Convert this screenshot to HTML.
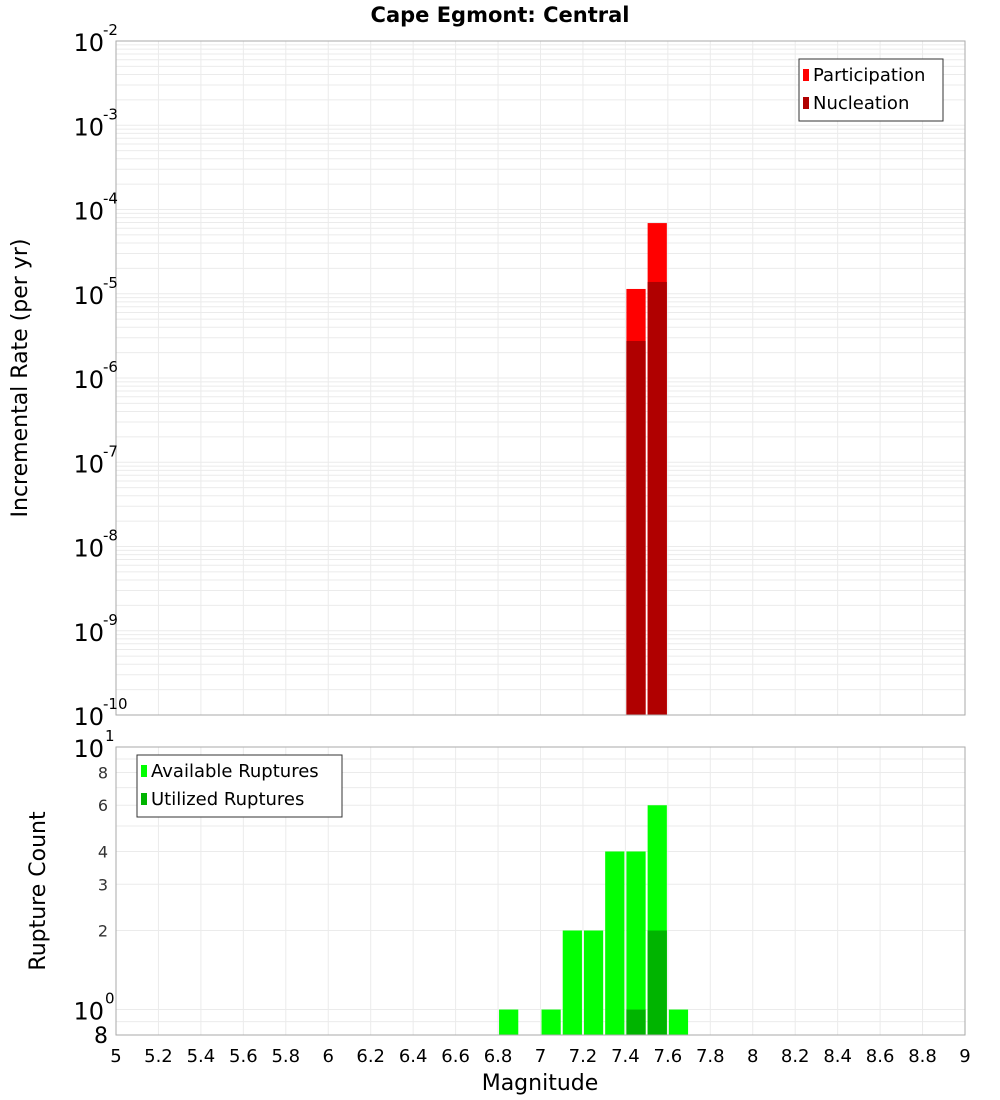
<!DOCTYPE html>
<html><head><meta charset="utf-8"><style>
body{margin:0;background:#fff}
svg{display:block;font-family:"DejaVu Sans","Liberation Sans",sans-serif}
</style></head><body>
<svg id="c" width="1000" height="1100" viewBox="0 0 1000 1100" xmlns="http://www.w3.org/2000/svg">
<text x="500" y="22" text-anchor="middle" font-size="21" font-weight="bold">Cape Egmont: Central</text>
<g id="gtop"></g>
<g id="gbot"></g>
<text transform="translate(27,378) rotate(-90)" text-anchor="middle" font-size="22">Incremental Rate (per yr)</text>
<text transform="translate(45,891) rotate(-90)" text-anchor="middle" font-size="22">Rupture Count</text>
<text x="540" y="1090" text-anchor="middle" font-size="22">Magnitude</text>
</svg>
<script>
const rateMags=[7.45,7.55];
const participation=[1.14e-5,6.9e-5];
const nucleation=[2.75e-6,1.38e-5];
const countMags=[6.85,7.05,7.15,7.25,7.35,7.45,7.55,7.65];
const available=[1,1,2,2,4,4,6,1];
const utilizedMags=[7.45,7.55];
const utilized=[1,2];
const xTicks=[5,5.2,5.4,5.6,5.8,6,6.2,6.4,6.6,6.8,7,7.2,7.4,7.6,7.8,8,8.2,8.4,8.6,8.8,9];
const topExps=[-2,-3,-4,-5,-6,-7,-8,-9,-10];
const botTicks=[8,6,4,3,2];

const NS="http://www.w3.org/2000/svg";
function mk(p,t,a){const e=document.createElementNS(NS,t);for(const k in a)e.setAttribute(k,a[k]);p.appendChild(e);return e;}
const L=116,R=965;
const X=m=>L+(m-5)/4*(R-L);
const T0=41,T1=715;
const YT=v=>T0+(-2-Math.log10(v))/8*(T1-T0);
const B0=747,B1=1035;
const lb=Math.log10(0.8);
const YB=v=>B0+(1-Math.log10(v))/(1-lb)*(B1-B0);
const gTop=document.getElementById('gtop'),gBot=document.getElementById('gbot');
const gridC="#ebebeb";
for(let e=-10;e<-2;e++)for(let k=1;k<10;k++){const y=YT(k*Math.pow(10,e));
 const l=mk(gTop,'line',{x1:L,x2:R,y1:y,y2:y,stroke:gridC,'stroke-width':1});
 
 }
for(const b of [gTop,gBot])for(const t of xTicks){const x=X(t);
 const l=mk(b,'line',{x1:x,x2:x,y1:b===gTop?T0:B0,y2:b===gTop?T1:B1,stroke:gridC,'stroke-width':1});
 
 }
for(const v of [0.9,1,2,3,4,5,6,7,8,9]){const y=YB(v);
 const l=mk(gBot,'line',{x1:L,x2:R,y1:y,y2:y,stroke:gridC,'stroke-width':1});
 
 }
const bw=(X(5.1)-X(5))-2;
function bar(g,m,v,Y,base,fill,name){const x=X(m)-bw/2;const y=Y(v);
 const r=mk(g,'rect',{x:x,y:y,width:bw,height:base-y,fill:fill});
 
 }
rateMags.forEach((m,i)=>bar(gTop,m,participation[i],YT,T1,'#ff0000','participation-bar'));
rateMags.forEach((m,i)=>bar(gTop,m,nucleation[i],YT,T1,'#b00000','nucleation-bar'));
countMags.forEach((m,i)=>bar(gBot,m,available[i],YB,B1,'#00ff00','available-bar'));
utilizedMags.forEach((m,i)=>bar(gBot,m,utilized[i],YB,B1,'#00b400','utilized-bar'));
mk(gTop,'rect',{x:L,y:T0,width:R-L,height:T1-T0,fill:'none',stroke:'#aaa'});
mk(gBot,'rect',{x:L,y:B0,width:R-L,height:B1-B0,fill:'none',stroke:'#aaa'});
topExps.forEach(e=>{const y=YT(Math.pow(10,e));
 const t=mk(gTop,'text',{x:104,y:y+10,'text-anchor':'end','font-size':24});
 
 
 t.textContent='10';
 const s=mk(gTop,'text',{x:103,y:y-6,'font-size':15});s.textContent=String(e);
 
 });
[[10,'1'],[1,'0']].forEach(([v,e])=>{const y=YB(v);
 const t=mk(gBot,'text',{x:104,y:y+10,'text-anchor':'end','font-size':24});t.textContent='10';
 
 
 const s=mk(gBot,'text',{x:105,y:y-6,'font-size':15});s.textContent=e;
 
 });
botTicks.forEach(v=>{const t=mk(gBot,'text',{x:108,y:YB(v)+6,'text-anchor':'end','font-size':16,fill:'#333'});t.textContent=v;
 
 });
{const t=mk(gBot,'text',{x:108,y:B1+8,'text-anchor':'end','font-size':22});t.textContent='8';
 
 }
xTicks.forEach(v=>{const t=mk(gBot,'text',{x:X(v),y:1062,'text-anchor':'middle','font-size':18});t.textContent=String(v);
 
 });
function legend(g,x,y,w,items,name){const lg=mk(g,'g',{});
 
 
 mk(lg,'rect',{x:x,y:y,width:w,height:items.length*28+6,fill:'#fff',stroke:'#333'});
 items.forEach(([c,s],i)=>{const e=mk(lg,'g',{});
  
  
  mk(e,'rect',{x:x+4,y:y+10+i*28,width:6,height:12,fill:c});
  const t=mk(e,'text',{x:x+14,y:y+22+i*28,'font-size':18});t.textContent=s;});}
legend(gTop,799,59,144,[['#ff0000','Participation'],['#b00000','Nucleation']],'top-legend');
legend(gBot,137,755,205,[['#00ff00','Available Ruptures'],['#00b400','Utilized Ruptures']],'bottom-legend');
</script>
</body></html>
